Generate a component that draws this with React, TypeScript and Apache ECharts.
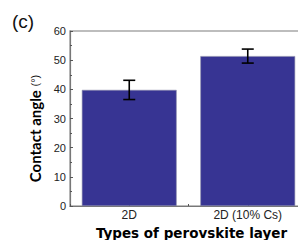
import React, { useEffect, useRef } from "react";
import * as echarts from "echarts";

const categories = ["2D", "2D (10% Cs)"];
const values = [39.8, 51.4];
const errors = [3.3, 2.4];
const yTicks = { min: 0, max: 60, interval: 10 };

export default function App() {
  const ref = useRef<HTMLDivElement>(null);
  useEffect(() => {
    document.body.style.margin = "0";
    const chart = echarts.init(ref.current!, null, { renderer: "svg" });
    const labelFont = "'Liberation Sans', Arial, sans-serif";
    const yTitleFont = "Lato, 'Open Sans', sans-serif";
    const xTitleFont = "'DejaVu Sans', sans-serif";
    chart.setOption({
      animation: false,
      grid: {
        left: 70,
        top: 31,
        width: 237,
        height: 175,
        show: true,
        borderColor: "#a8a8a8",
        borderWidth: 1.5,
        containLabel: false,
        outerBoundsMode: "none",
      },
      graphic: [
        {
          type: "text",
          left: 12,
          top: 12,
          style: { text: "(c)", fontSize: 19, fontFamily: labelFont, fill: "#111" },
        },
      ],
      xAxis: [
        {
          type: "category",
          data: categories,
          name: "Types of perovskite layer",
          nameLocation: "middle",
          nameGap: 16,
          nameTextStyle: {
            fontFamily: xTitleFont,
            fontWeight: "bold",
            fontSize: 13.5,
            lineHeight: 14,
            color: "#000",
            padding: [0, 0, 0, 6],
          },
          axisLine: { lineStyle: { color: "#777", width: 1.2 } },
          axisTick: { show: true, inside: true, alignWithLabel: true, length: 3, lineStyle: { color: "#555" } },
          axisLabel: { fontFamily: labelFont, fontSize: 12, color: "#222", margin: 3 },
        },
        {
          type: "category",
          data: categories,
          position: "bottom",
          axisLine: { show: false },
          axisTick: { show: true, inside: true, length: 2, lineStyle: { color: "#555" } },
          axisLabel: { show: false },
        },
      ],
      yAxis: {
        type: "value",
        min: yTicks.min,
        max: yTicks.max,
        interval: yTicks.interval,
        name: "{b|Contact angle }{n|(°)}",
        nameLocation: "middle",
        nameGap: 27,
        nameTextStyle: {
          rich: {
            b: { fontFamily: yTitleFont, fontWeight: "bold", fontSize: 15, color: "#000" },
            n: { fontFamily: labelFont, fontSize: 11, color: "#111" },
          },
          padding: [0, 20, 0, 0],
        },
        axisLine: { show: true, lineStyle: { color: "#777", width: 1.2 } },
        axisTick: { show: true, inside: true, length: 3, lineStyle: { color: "#555" } },
        minorTick: { show: true, splitNumber: 2, length: 2, lineStyle: { color: "#555" } },
        splitLine: { show: false },
        axisLabel: { fontFamily: labelFont, fontSize: 11, color: "#222", margin: 4 },
      },
      series: [
        {
          type: "bar",
          data: values,
          barWidth: "80%",
          itemStyle: { color: "#373493", borderColor: "#8a8aa8", borderWidth: 0.6 },
        },
        {
          type: "custom",
          data: values.map((v, i) => [i, v - errors[i], v + errors[i]]),
          renderItem: (params: any, api: any) => {
            const x = api.value(0);
            const lo = api.coord([x, api.value(1)]);
            const hi = api.coord([x, api.value(2)]);
            const w = 6;
            const style = { stroke: "#000", lineWidth: 1.6 };
            return {
              type: "group",
              children: [
                { type: "line", shape: { x1: lo[0], y1: lo[1], x2: hi[0], y2: hi[1] }, style },
                { type: "line", shape: { x1: hi[0] - w, y1: hi[1], x2: hi[0] + w, y2: hi[1] }, style },
                { type: "line", shape: { x1: lo[0] - w, y1: lo[1], x2: lo[0] + w, y2: lo[1] }, style },
              ],
            };
          },
          z: 10,
        },
      ],
    });
    return () => chart.dispose();
  }, []);
  return <div ref={ref} style={{ width: 298, height: 240 }} />;
}
